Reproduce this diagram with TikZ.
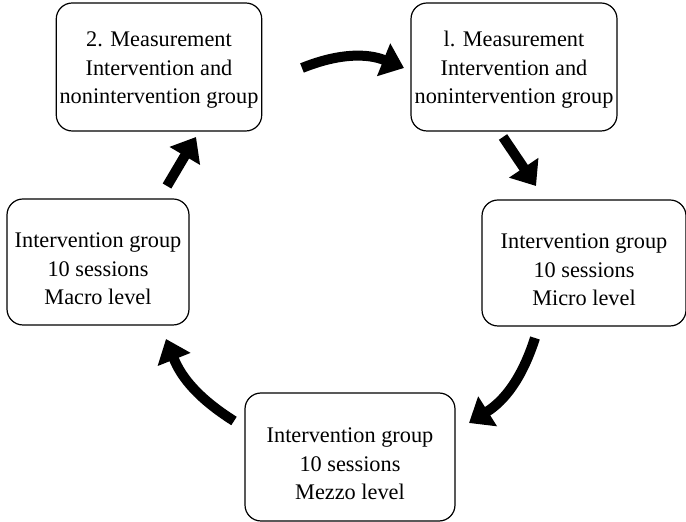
\documentclass[tikz,border=0pt]{standalone}
\usepackage{fontspec}
\setmainfont{Liberation Serif}
\usetikzlibrary{shapes,arrows.meta,positioning}
\tikzstyle{block} = [rectangle, draw, line width=1.2pt, rounded corners=16pt,
    align=center, minimum width=204pt, minimum height=128pt,
    font=\fontsize{22.3}{28.5}\selectfont]
\tikzstyle{fatarrow} = [draw, line width=10pt, -{Triangle[length=22pt,width=34pt]}]
\tikzset{textdrop/.style={text height=#1}}

\begin{document}
\begin{tikzpicture}[x=1pt, y=1pt, node distance=355pt]
    \useasboundingbox (0,0) rectangle (686,522);
    \node[block, textdrop=78pt] (meas2) at (159,455) {2. Measurement\\Intervention and\\nonintervention group};
    \node[block, textdrop=78pt, right of=meas2, minimum width=206pt] (meas1) {l. Measurement\\Intervention and\\nonintervention group};
    \node[block, textdrop=86pt, minimum height=126pt] (micro) at (584,259) {Intervention group\\10 sessions\\Micro level};
    \node[block, textdrop=86pt, minimum width=210pt] (mezzo) at (350,65) {Intervention group\\10 sessions\\Mezzo level};
    \node[block, textdrop=86pt, minimum width=182pt, minimum height=126pt] (macro) at (98,260) {Intervention group\\10 sessions\\Macro level};

    % arrow ends
    \coordinate (a1s) at (302,454);
    \coordinate (a1e) at (404,454);
    \coordinate (a2s) at (503,385);
    \coordinate (a2e) at (536,336);
    \coordinate (a3s) at (535,184);
    \coordinate (a3e) at (469,99);
    \coordinate (a4s) at (234,101);
    \coordinate (a4e) at (166,183);
    \coordinate (a5s) at (167,336);
    \coordinate (a5e) at (196,385);

    \path [fatarrow] (a1s) to[bend left=22] (a1e);
    \path [fatarrow] (a2s) -- (a2e);
    \path [fatarrow] (a3s) to[bend left=20] (a3e);
    \path [fatarrow] (a4s) to[bend left=18] (a4e);
    \path [fatarrow] (a5s) -- (a5e);
\end{tikzpicture}
\end{document}
